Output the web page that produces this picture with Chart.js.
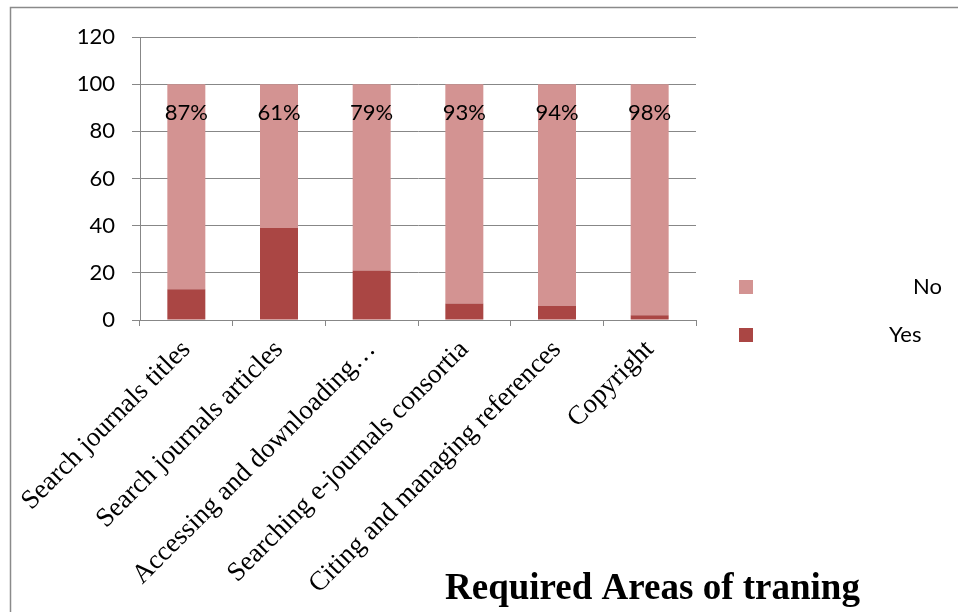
<!DOCTYPE html>
<html>
<head>
<meta charset="utf-8">
<script src="https://cdn.jsdelivr.net/npm/chart.js@4.4.1/dist/chart.umd.min.js"></script>
<style>
  html, body { margin: 0; padding: 0; background: #fff; }
  #wrap { width: 958px; height: 612px; position: relative; }
</style>
</head>
<body>
<div id="wrap"><canvas id="c" width="958" height="612"></canvas></div>
<script>
// Training areas surveyed
const categories = [
  'Search journals titles',
  'Search journals articles',
  'Accessing and downloading\u2026',
  'Searching e-journals consortia',
  'Citing and managing references',
  'Copyright'
];
// Share of respondents (%)
const yesValues = [13, 39, 21, 7, 6, 2];
const noValues  = [87, 61, 79, 93, 94, 98];
// Text printed on each bar (the "No" share)
const barLabels = ['87%', '61%', '79%', '93%', '94%', '98%'];
const yTicks = [0, 20, 40, 60, 80, 100, 120];

const colYes = '#AA4644';
const colNo  = '#D39392';
const gridCol = '#878787';
const sansFont = 'Lato, "Noto Sans", sans-serif';
const serifFont = '"Liberation Serif", "Times New Roman", serif';

// Frame around the whole chart
const framePlugin = {
  id: 'frame',
  beforeDraw(chart) {
    const ctx = chart.ctx;
    ctx.save();
    ctx.fillStyle = '#fff';
    ctx.fillRect(0, 0, chart.width, chart.height);
    ctx.strokeStyle = '#8a8a8a';
    ctx.lineWidth = 1.5;
    ctx.strokeRect(10.5, 7.5, chart.width + 20, chart.height + 20);
    ctx.restore();
  }
};

// Percentage text near the top of each bar
const barTextPlugin = {
  id: 'barText',
  afterDatasetsDraw(chart) {
    const ctx = chart.ctx;
    const meta = chart.getDatasetMeta(1);
    ctx.save();
    ctx.font = '22px ' + sansFont;
    ctx.fillStyle = '#000';
    ctx.textAlign = 'center';
    ctx.textBaseline = 'middle';
    meta.data.forEach((bar, i) => {
      ctx.fillText(barLabels[i], bar.x, bar.y + 29);
    });
    ctx.restore();
  }
};

// Legend (No above Yes) and axis caption on the right-hand side
const sideTextPlugin = {
  id: 'sideText',
  afterDraw(chart) {
    const ctx = chart.ctx;
    const items = [
      { ds: chart.data.datasets[1], y: 287, tx: 913 },
      { ds: chart.data.datasets[0], y: 335, tx: 889 }
    ];
    ctx.save();
    ctx.font = '22px ' + sansFont;
    ctx.textBaseline = 'middle';
    ctx.textAlign = 'left';
    items.forEach(it => {
      ctx.fillStyle = it.ds.backgroundColor;
      ctx.fillRect(739, it.y - 7, 14, 14);
      ctx.fillStyle = '#000';
      ctx.fillText(it.ds.label, it.tx, it.y);
    });
    ctx.font = 'bold 37px ' + serifFont;
    ctx.textAlign = 'left';
    ctx.textBaseline = 'alphabetic';
    ctx.fillText('Required Areas of traning', 445, 599);
    ctx.restore();
  }
};

new Chart(document.getElementById('c'), {
  type: 'bar',
  data: {
    labels: categories,
    datasets: [
      { label: 'Yes', data: yesValues, backgroundColor: colYes },
      { label: 'No',  data: noValues,  backgroundColor: colNo }
    ]
  },
  options: {
    responsive: false,
    animation: false,
    devicePixelRatio: 1,
    layout: { padding: { left: 0, right: 262, top: 37, bottom: 0 } },
    plugins: {
      legend: { display: false },
      tooltip: { enabled: false },
      title: { display: false }
    },
    datasets: { bar: { barPercentage: 0.41, categoryPercentage: 1.0 } },
    scales: {
      x: {
        stacked: true,
        grid: {
          offset: true,
          drawOnChartArea: false,
          drawTicks: true,
          tickLength: 6,
          color: gridCol
        },
        border: { color: gridCol, width: 1 },
        ticks: {
          autoSkip: false,
          maxRotation: 45,
          minRotation: 45,
          padding: 8,
          color: '#000',
          font: { family: serifFont, size: 27 }
        },
        afterFit(scale) { scale.height = 612 - 320; }
      },
      y: {
        stacked: true,
        min: 0,
        max: 120,
        afterBuildTicks(scale) { scale.ticks = yTicks.map(v => ({ value: v })); },
        grid: { color: gridCol, tickLength: 8, lineWidth: 1 },
        border: { color: gridCol, width: 1 },
        ticks: {
          padding: 17,
          color: '#000',
          font: { family: sansFont, size: 22 }
        },
        afterFit(scale) { scale.width = 140; }
      }
    }
  },
  plugins: [framePlugin, barTextPlugin, sideTextPlugin]
});
</script>
</body>
</html>
